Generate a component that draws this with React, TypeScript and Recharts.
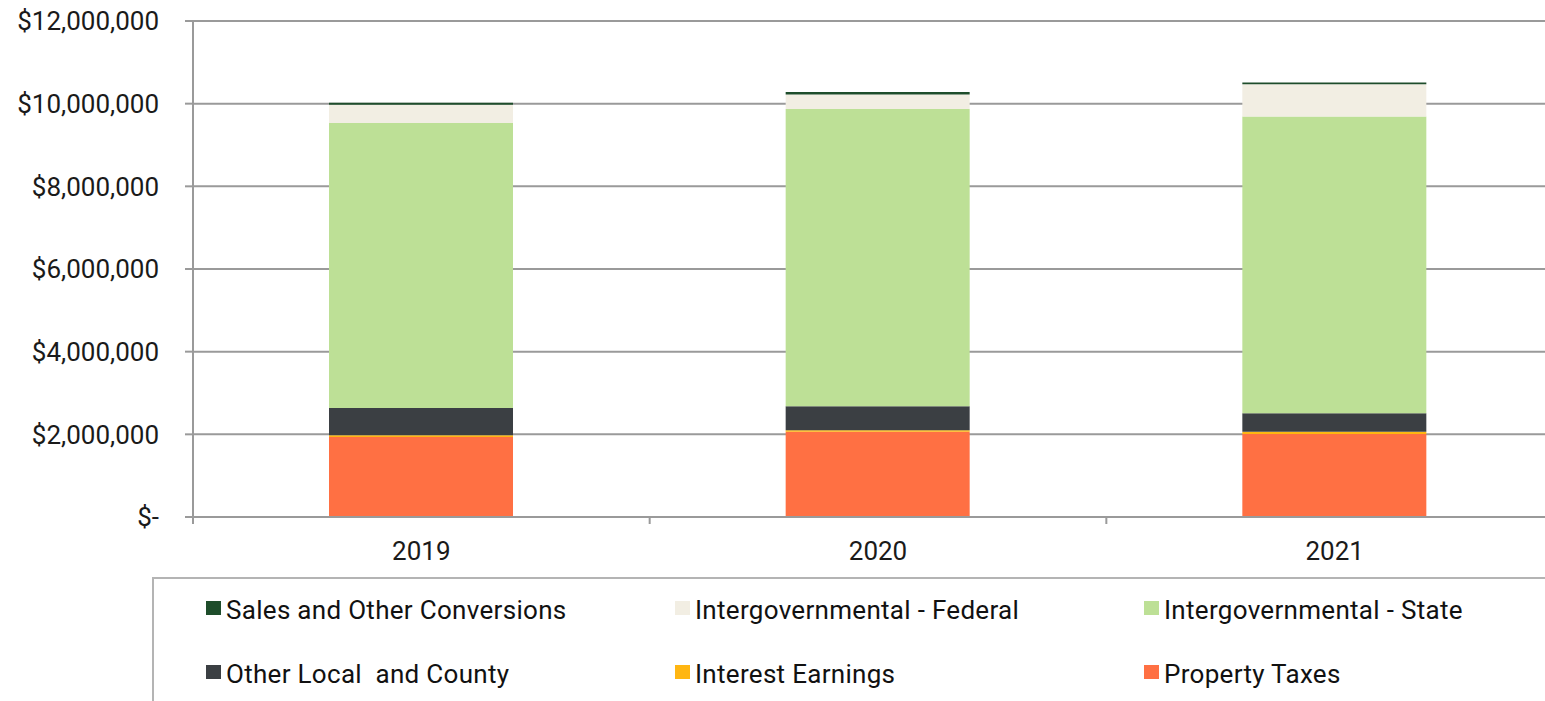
import React from "react";
import { BarChart, Bar, XAxis, YAxis, CartesianGrid } from "recharts";

const years = ["2019", "2020", "2021"];
const yearPos = [0.5, 1.5, 2.5];
const propertyTaxes = [1935000, 2060000, 2010000];
const interestEarnings = [40000, 40000, 50000];
const otherLocalCounty = [660000, 580000, 450000];
const interState = [6900000, 7190000, 7180000];
const interFederal = [440000, 350000, 780000];
const salesOther = [50000, 60000, 40000];
const yTicks = [0, 2000000, 4000000, 6000000, 8000000, 10000000, 12000000];
const xBoundaryTicks = [0, 1, 2, 3];

const series = [
  { key: "pt", name: "Property Taxes", color: "#FF7043", values: propertyTaxes },
  { key: "ie", name: "Interest Earnings", color: "#FFB612", values: interestEarnings },
  { key: "ol", name: "Other Local  and County", color: "#3B3F43", values: otherLocalCounty },
  { key: "st", name: "Intergovernmental - State", color: "#BDE096", values: interState },
  { key: "fe", name: "Intergovernmental - Federal", color: "#F2EEE3", values: interFederal },
  { key: "so", name: "Sales and Other Conversions", color: "#1E4D2B", values: salesOther },
];

const data = years.map((y, i) => {
  const row: any = { year: y, x: yearPos[i] };
  series.forEach((s) => (row[s.key] = s.values[i]));
  return row;
});

const legendOrder = [...series].reverse();
const FONT = "Roboto, 'Noto Sans', sans-serif";
const AXIS = "#9a9a9a";

const fmtY = (v: number) => (v === 0 ? "$-" : "$" + v.toLocaleString("en-US"));

const XTick = (props: any) => {
  const { x, y, payload } = props;
  const v = payload.value;
  if (Number.isInteger(v)) {
    return <line x1={x} x2={x} y1={y} y2={y + 7} stroke={AXIS} strokeWidth={2} />;
  }
  const idx = yearPos.indexOf(v);
  return (
    <text x={x} y={y + 25} dy="0.71em" textAnchor="middle" fill="#1a1a1a" fontSize={26} fontFamily={FONT}>
      {years[idx]}
    </text>
  );
};

export default function App() {
  const xTicks = [...xBoundaryTicks, ...yearPos].sort((a, b) => a - b);
  return (
    <div style={{ position: "absolute", left: 0, top: 0, width: 1545, height: 701, overflow: "hidden", background: "#fff", fontFamily: FONT }}>
      <BarChart width={1567} height={580} data={data} margin={{ top: 21, right: 4, left: 0, bottom: 23 }}>
        <CartesianGrid vertical={false} stroke={AXIS} strokeWidth={2} />
        <XAxis
          dataKey="x"
          type="number"
          domain={[0, 3]}
          ticks={xTicks}
          interval={0}
          tick={<XTick />}
          tickLine={false}
          tickSize={0}
          tickMargin={0}
          height={40}
          axisLine={{ stroke: AXIS, strokeWidth: 2 }}
        />
        <YAxis
          domain={[0, 12000000]}
          ticks={yTicks}
          interval={0}
          width={193}
          tickFormatter={fmtY}
          tickSize={8}
          tickMargin={26}
          tickLine={{ stroke: AXIS, strokeWidth: 2 }}
          axisLine={{ stroke: AXIS, strokeWidth: 2 }}
          tick={{ fill: "#1a1a1a", fontSize: 26, fontFamily: FONT }}
        />
        {series.map((s) => (
          <Bar key={s.key} dataKey={s.key} name={s.name} stackId="a" fill={s.color} barSize={184} isAnimationActive={false} />
        ))}
      </BarChart>
      <div
        style={{
          position: "absolute",
          left: 152,
          top: 577,
          width: 1545,
          height: 200,
          borderTop: `2px solid #b4b4b4`,
          borderLeft: `2px solid #b4b4b4`,
        }}
      >
        {legendOrder.map((s, i) => {
          const col = i % 3;
          const row = Math.floor(i / 3);
          const left = 52 + col * 469;
          const top = 22 + row * 64;
          return (
            <div key={s.key} style={{ position: "absolute", left, top, whiteSpace: "pre" }}>
              <div style={{ position: "absolute", left: 0, top: 0, width: 15, height: 14, background: s.color }} />
              <div style={{ position: "absolute", left: 20, top: -4, fontSize: 26, lineHeight: "26px", letterSpacing: "0.3px", color: "#111", fontFamily: FONT, whiteSpace: "pre" }}>
                {s.name}
              </div>
            </div>
          );
        })}
      </div>
    </div>
  );
}
